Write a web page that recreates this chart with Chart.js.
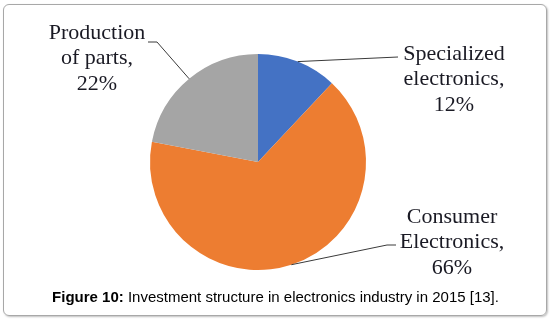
<!DOCTYPE html>
<html>
<head>
<meta charset="utf-8">
<script src="https://cdn.jsdelivr.net/npm/chart.js@4.4.1/dist/chart.umd.min.js"></script>
<style>
  html, body { margin: 0; padding: 0; background: #fff; }
  #frame {
    position: absolute; left: 3px; top: 4px; width: 542px; height: 310px;
    border: 1px solid #a8a8a8; border-radius: 6px;
    box-shadow: 1px 1px 2px rgba(0,0,0,0.25);
  }
  #wrap { position: absolute; left: 0; top: 0; width: 551px; height: 323px; }
  #caption {
    position: absolute; left: 0; top: 288px; width: 551px; text-align: center;
    font-family: "Liberation Sans", Arial, sans-serif; font-size: 15px; color: #000;
  }
</style>
</head>
<body>
<div id="frame"></div>
<div id="wrap"><canvas id="pieChart"></canvas></div>
<div id="caption"><b>Figure 10:</b> Investment structure in electronics industry in 2015 [13].</div>
<script>
const categories = ["Specialized electronics", "Consumer Electronics", "Production of parts"];
const shares = [12, 66, 22];
const labelLines = [
  ["Specialized", "electronics,", "12%"],
  ["Consumer", "Electronics,", "66%"],
  ["Production", "of parts,", "22%"]
];
const colors = ["#4472C4", "#ED7D31", "#A5A5A5"];

// where each label block sits and where its leader line bends
const labelPlaces = [
  { x: 454, y: 54, elbow: [[398, 57]] },
  { x: 452, y: 217, elbow: [[387, 245], [396, 245]] },
  { x: 97, y: 33, elbow: [[157, 42], [148, 42]] }
];

const calloutPlugin = {
  id: "callouts",
  afterDatasetsDraw(chart) {
    const ctx = chart.ctx;
    const arcs = chart.getDatasetMeta(0).data;
    ctx.save();
    arcs.forEach((arc, i) => {
      const mid = (arc.startAngle + arc.endAngle) / 2;
      const px = arc.x + Math.cos(mid) * arc.outerRadius;
      const py = arc.y + Math.sin(mid) * arc.outerRadius;
      const place = labelPlaces[i];
      ctx.strokeStyle = "#3a3a3a";
      ctx.lineWidth = 1;
      ctx.beginPath();
      ctx.moveTo(px, py);
      place.elbow.forEach(p => ctx.lineTo(p[0], p[1]));
      ctx.stroke();

      ctx.fillStyle = "#1a1a24";
      ctx.font = '22px "Liberation Serif"';
      ctx.textAlign = "center";
      ctx.textBaseline = "middle";
      labelLines[i].forEach((t, k) => {
        ctx.fillText(t, place.x, place.y + k * 25.5);
      });
    });
    ctx.restore();
  }
};

const canvas = document.getElementById("pieChart");
const ctx = canvas.getContext("2d");
new Chart(ctx, {
  type: "pie",
  data: {
    labels: categories,
    datasets: [
      {
        data: shares,
        backgroundColor: colors,
        borderWidth: 0,
      },
    ],
  },
  options: {
    responsive: true,
    maintainAspectRatio: false,
    animation: false,
    layout: {
      padding: { left: 150, right: 185, top: 54, bottom: 53 },
    },
    plugins: {
      legend: { display: false },
      tooltip: { enabled: false },
    },
  },
  plugins: [calloutPlugin],
});
</script>
</body>
</html>
